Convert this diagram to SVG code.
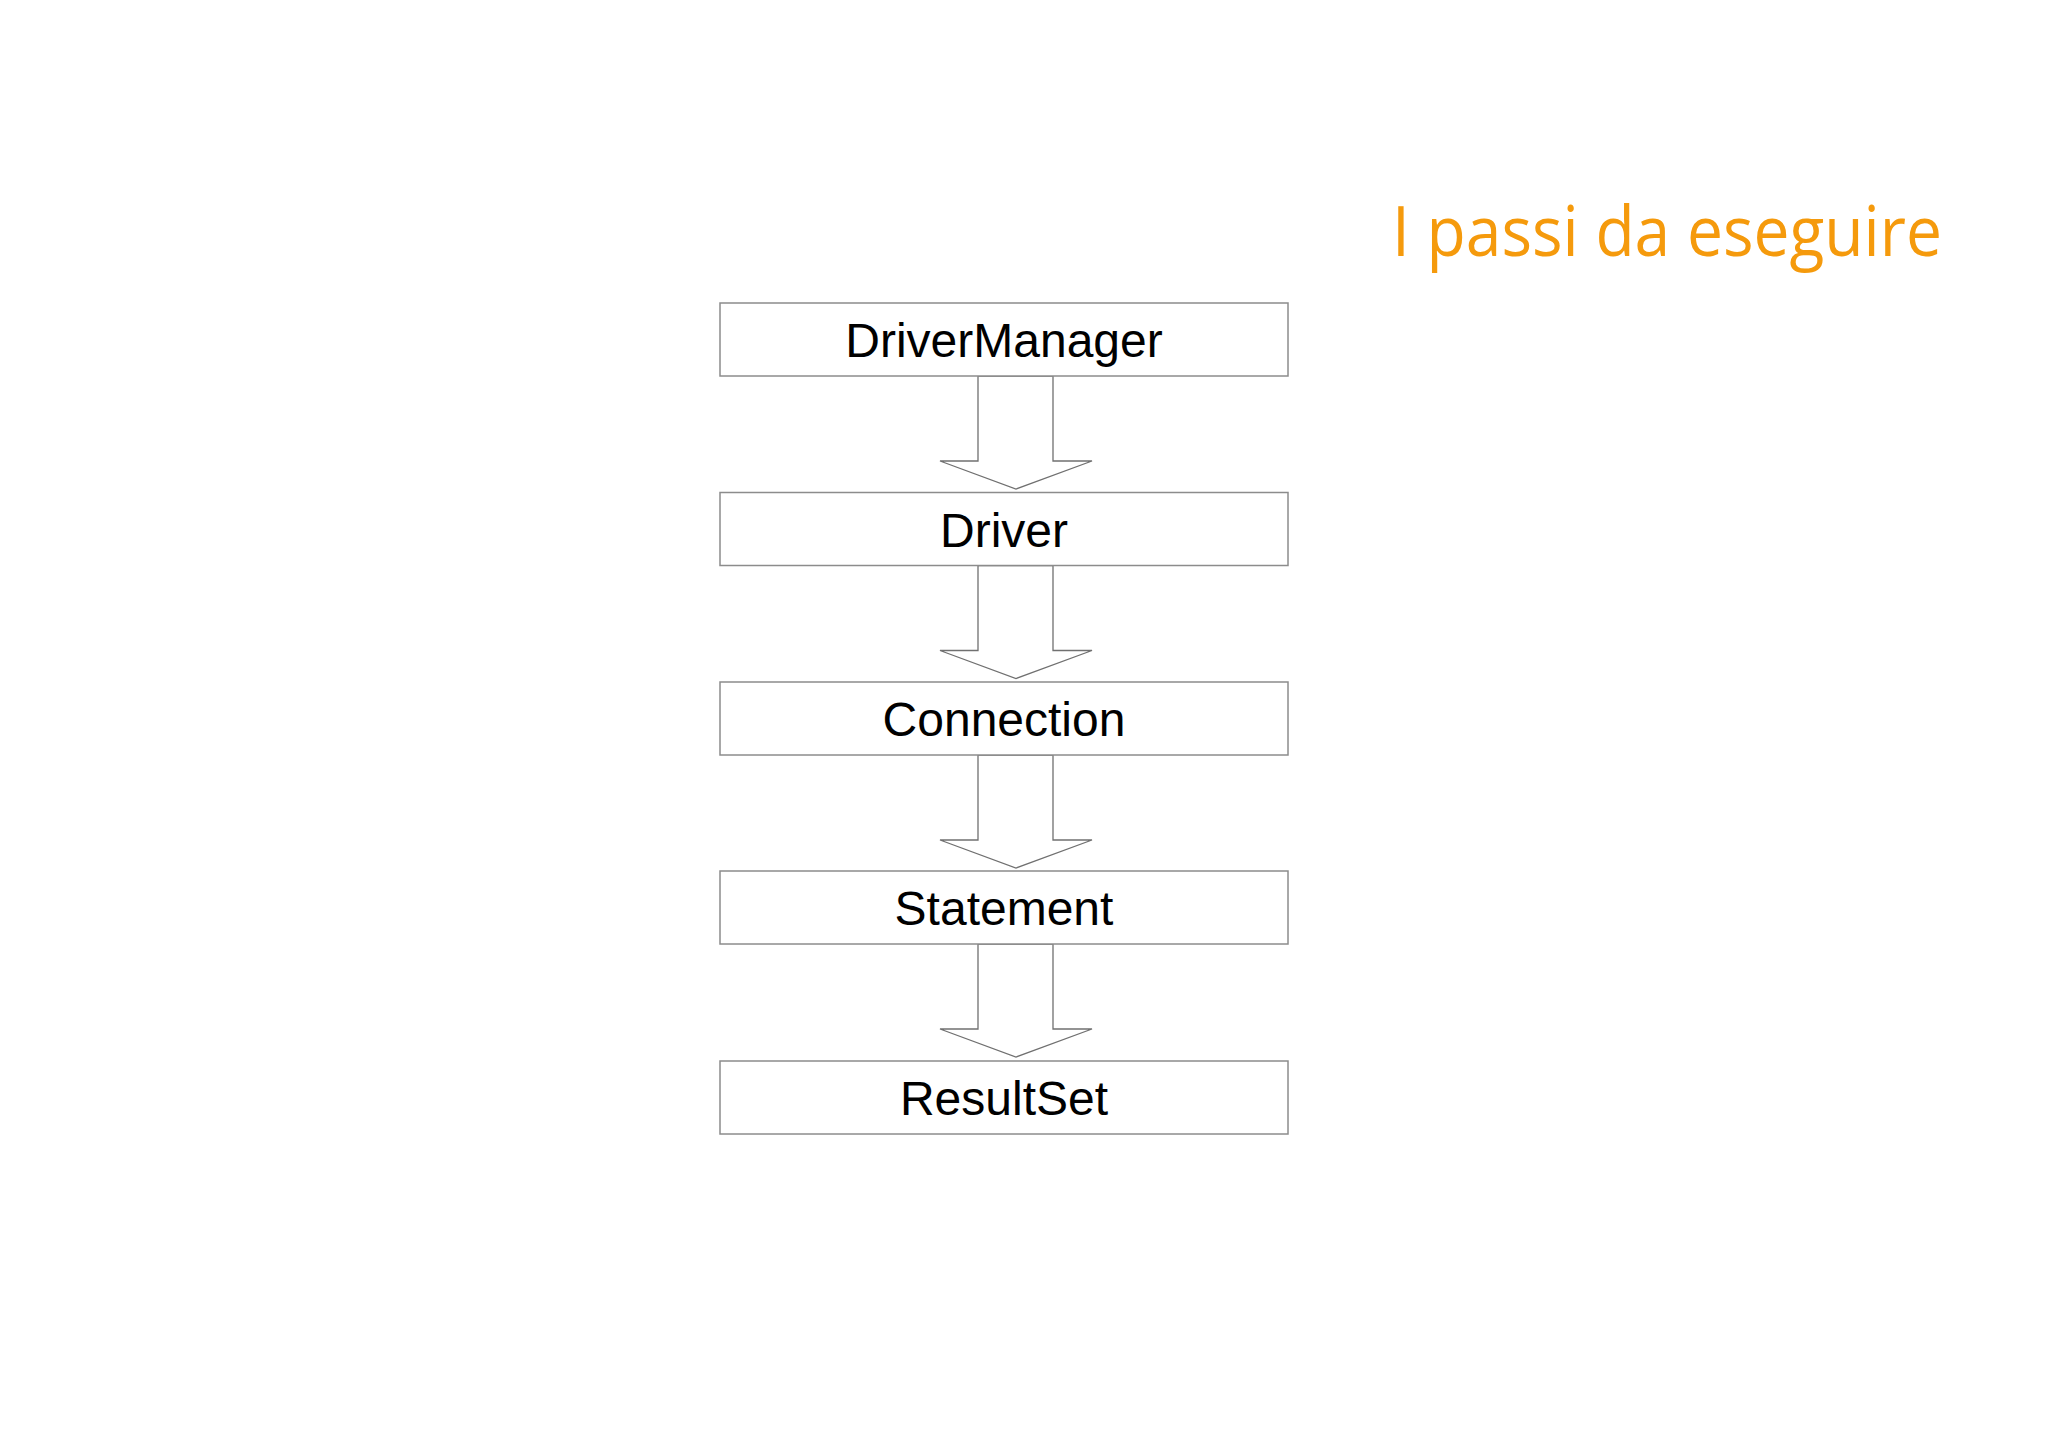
<svg xmlns="http://www.w3.org/2000/svg" width="2048" height="1444" viewBox="0 0 2048 1444">
<style>
.box{fill:#fff;stroke:#8c8c8c;stroke-width:1.5}
.lbl{font-family:"Liberation Sans",Arial,sans-serif;font-size:48px;fill:#000;text-anchor:middle}
.arr{fill:#fff;stroke:#707070;stroke-width:1.3;stroke-linejoin:miter}
.title{font-family:"Open Sans","Noto Sans",sans-serif;font-size:70px;fill:#F59A0C}
</style>
<rect width="2048" height="1444" fill="#fff"/>
<text class="title" x="1392" y="256" textLength="550" lengthAdjust="spacingAndGlyphs">I passi da eseguire</text>
<g id="connectors">
<path class="arr" d="M978,376 V461 H940 L1016,489 L1092,461 H1053 V376 Z"/>
<path class="arr" d="M978,565.5 V650.5 H940 L1016,678.5 L1092,650.5 H1053 V565.5 Z"/>
<path class="arr" d="M978,755 V840 H940 L1016,868 L1092,840 H1053 V755 Z"/>
<path class="arr" d="M978,944 V1029 H940 L1016,1057 L1092,1029 H1053 V944 Z"/>
</g>
<g id="node-drivermanager"><rect class="box" x="720" y="303" width="568" height="73"/><text class="lbl" x="1004" y="357">DriverManager</text></g>
<g id="node-driver"><rect class="box" x="720" y="492.5" width="568" height="73"/><text class="lbl" x="1004" y="546.5">Driver</text></g>
<g id="node-connection"><rect class="box" x="720" y="682" width="568" height="73"/><text class="lbl" x="1004" y="736">Connection</text></g>
<g id="node-statement"><rect class="box" x="720" y="871" width="568" height="73"/><text class="lbl" x="1004" y="925">Statement</text></g>
<g id="node-resultset"><rect class="box" x="720" y="1061" width="568" height="73"/><text class="lbl" x="1004" y="1115">ResultSet</text></g>
</svg>
